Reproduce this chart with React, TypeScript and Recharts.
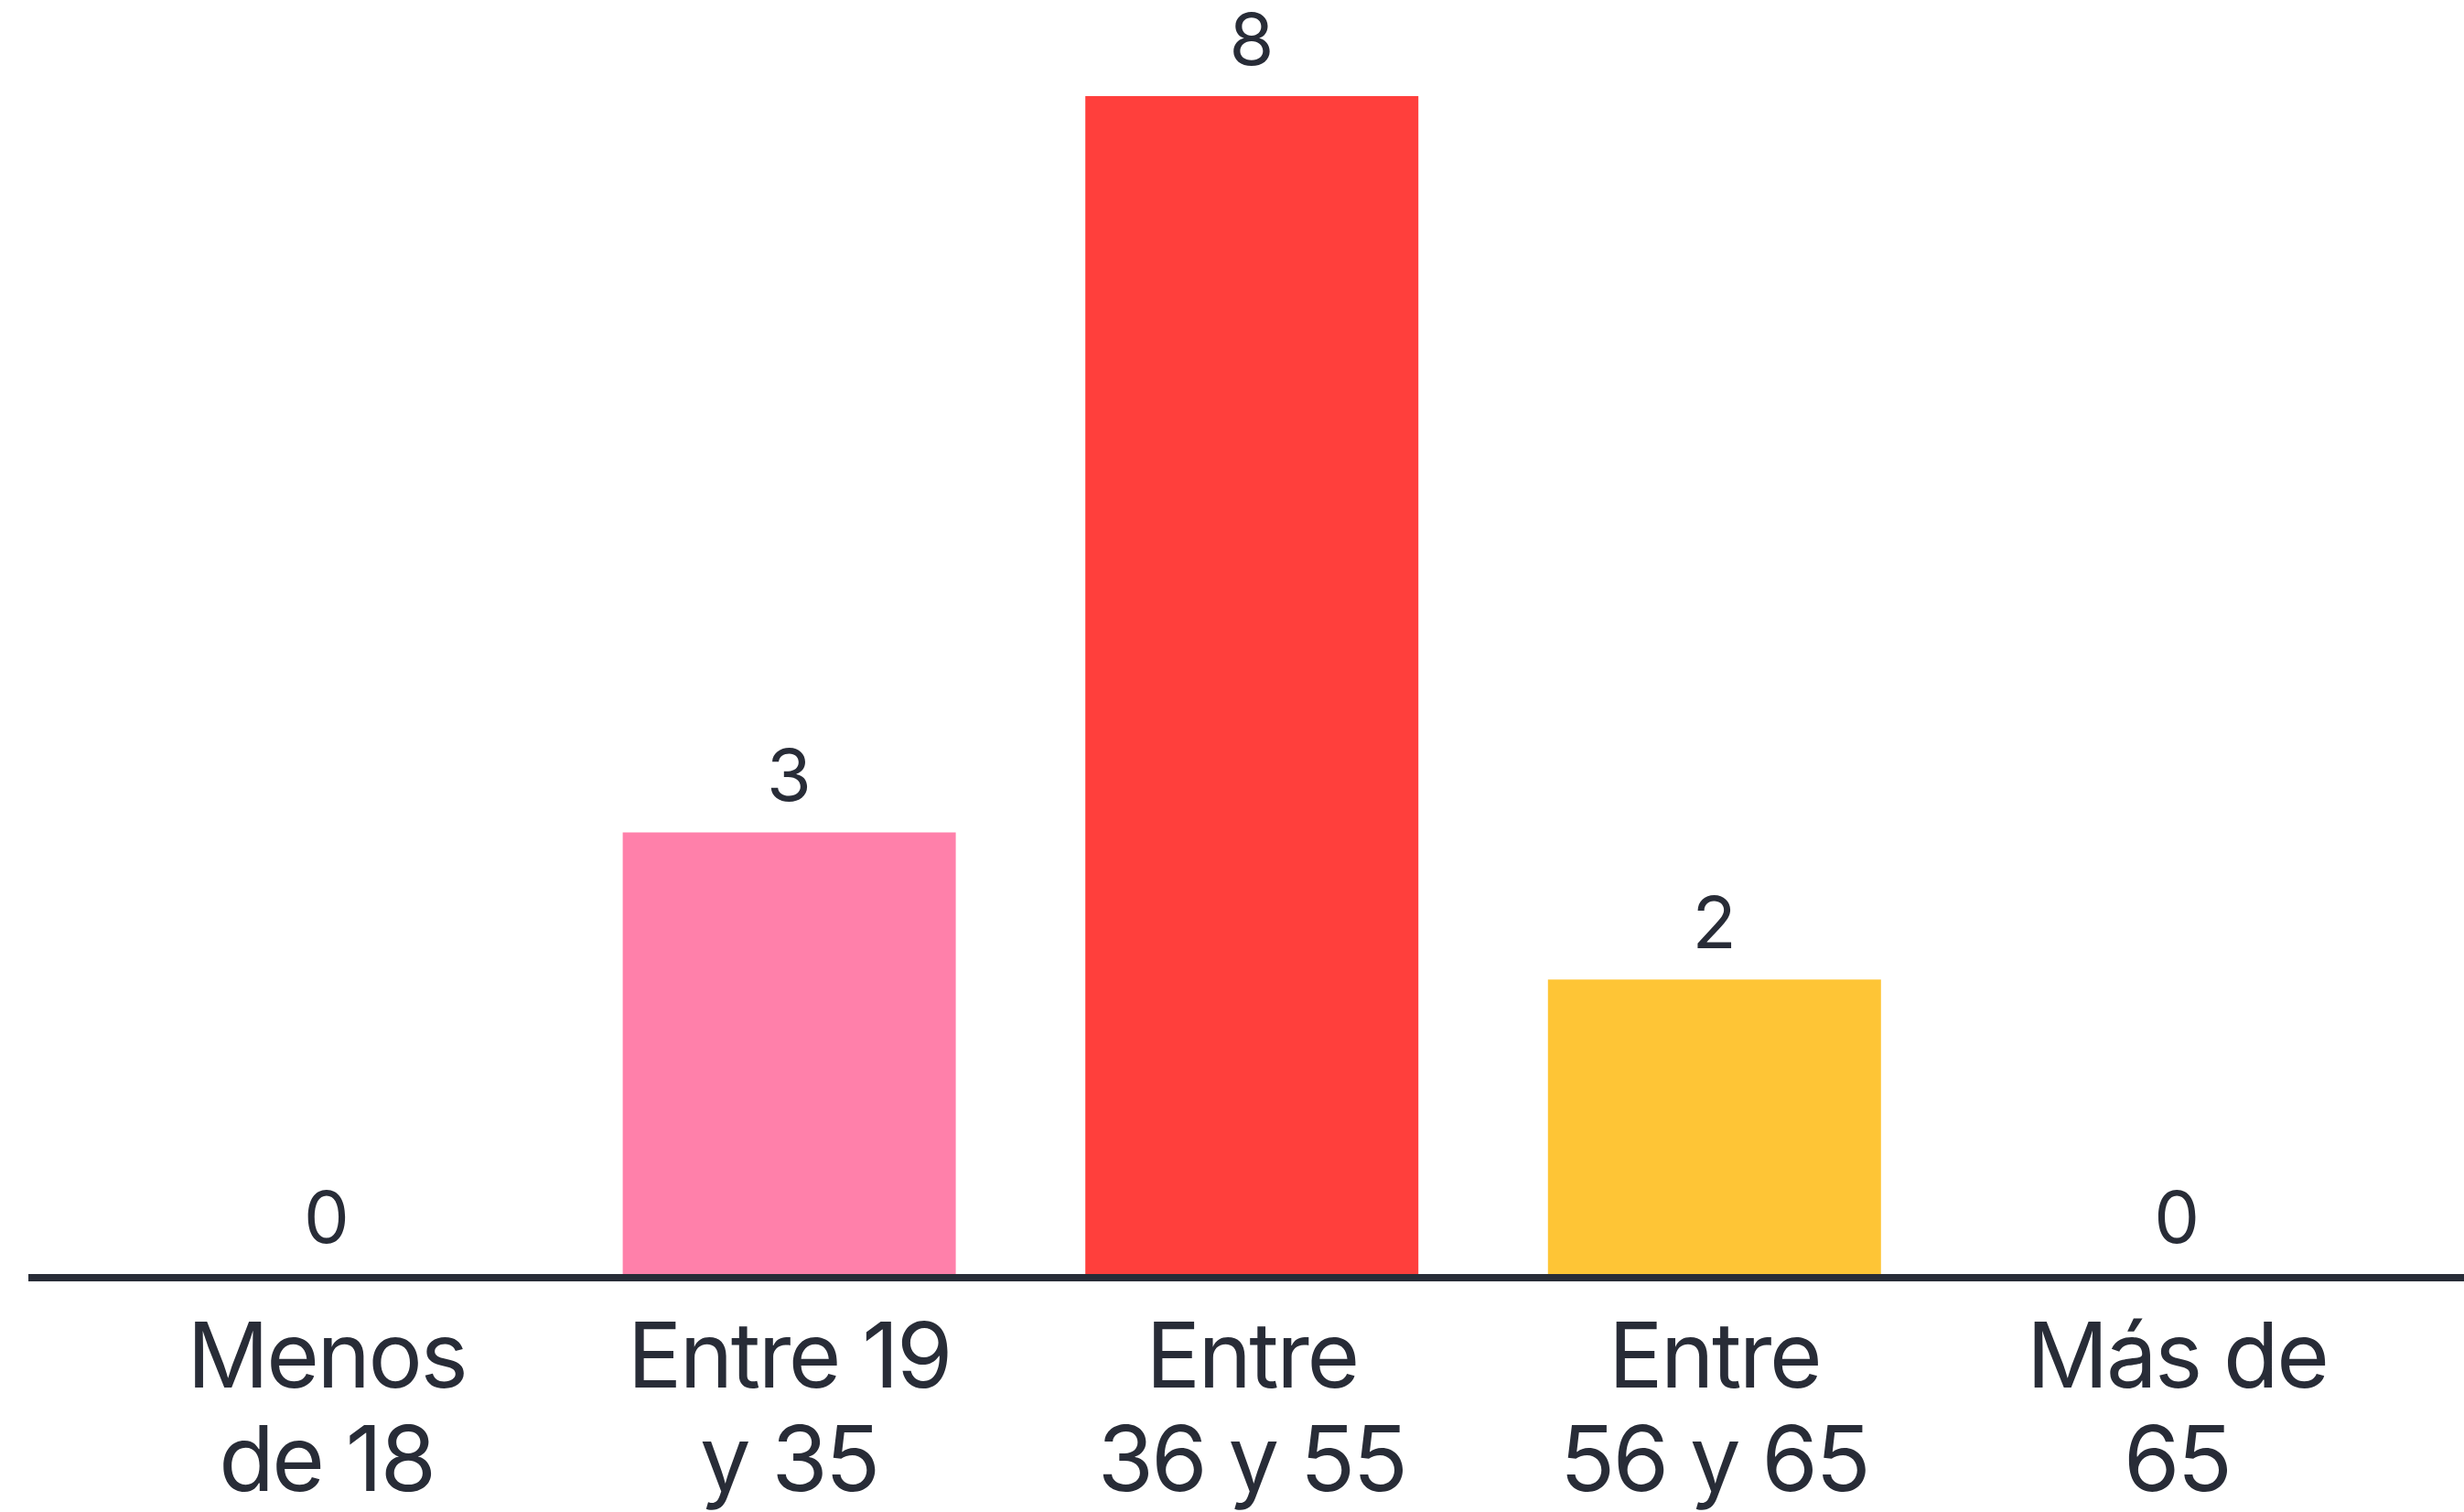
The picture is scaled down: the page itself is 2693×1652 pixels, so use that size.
import { ComposedChart, Bar, Line, XAxis, YAxis, Cell } from "recharts";

const ageGroups = ["Menos\nde 18", "Entre 19\ny 35", "Entre\n36 y 55", "Entre\n56 y 65", "Más de\n65"];
const counts = [0, 3, 8, 2, 0];
const barColors = ["#ff80aa", "#ff80aa", "#ff3f3c", "#fec536", "#fec536"];

const data = ageGroups.map((group, i) => ({ group, count: counts[i] }));

const ink = "#282c37";
const font = "Inter, 'Noto Sans', sans-serif";

function AgeTick(props: any) {
  const { x, y, payload } = props;
  const lines = String(payload.value).split("\n");
  return (
    <text
      x={x}
      y={y}
      textAnchor="middle"
      fill={ink}
      fontFamily={font}
      fontSize={99}
      letterSpacing={-2.5}
    >
      {lines.map((line, i) => (
        <tspan key={i} x={x} y={y + 124 + i * 113}>
          {line}
        </tspan>
      ))}
    </text>
  );
}

// value labels hang off an invisible line so the zero bars get one too
function ValueLabel(props: any) {
  const { x, y, value, index } = props;
  return (
    <text
      key={index}
      x={x}
      y={y - 34}
      textAnchor="middle"
      fill={ink}
      fontFamily={font}
      fontSize={79}
    >
      {value}
    </text>
  );
}

export default function App() {
  return (
    <div style={{ position: "absolute", left: 0, top: 0, background: "#fff" }}>
      <ComposedChart
        width={2693}
        height={1652}
        data={data}
        margin={{ top: 105, right: 0, bottom: 0, left: 31 }}
      >
        <XAxis
          dataKey="group"
          height={260}
          padding={{ left: 73, right: 61 }}
          axisLine={{ stroke: ink, strokeWidth: 8, transform: "translate(0,4)" }}
          tickLine={false}
          tickSize={0}
          tickMargin={0}
          interval={0}
          tick={<AgeTick />}
        />
        <YAxis hide domain={[0, 8]} />
        <Bar dataKey="count" barSize={364} isAnimationActive={false}>
          {data.map((d, i) => (
            <Cell key={d.group} fill={barColors[i]} />
          ))}
        </Bar>
        <Line
          dataKey="count"
          stroke="none"
          dot={false}
          activeDot={false}
          label={ValueLabel}
          isAnimationActive={false}
        />
      </ComposedChart>
    </div>
  );
}
